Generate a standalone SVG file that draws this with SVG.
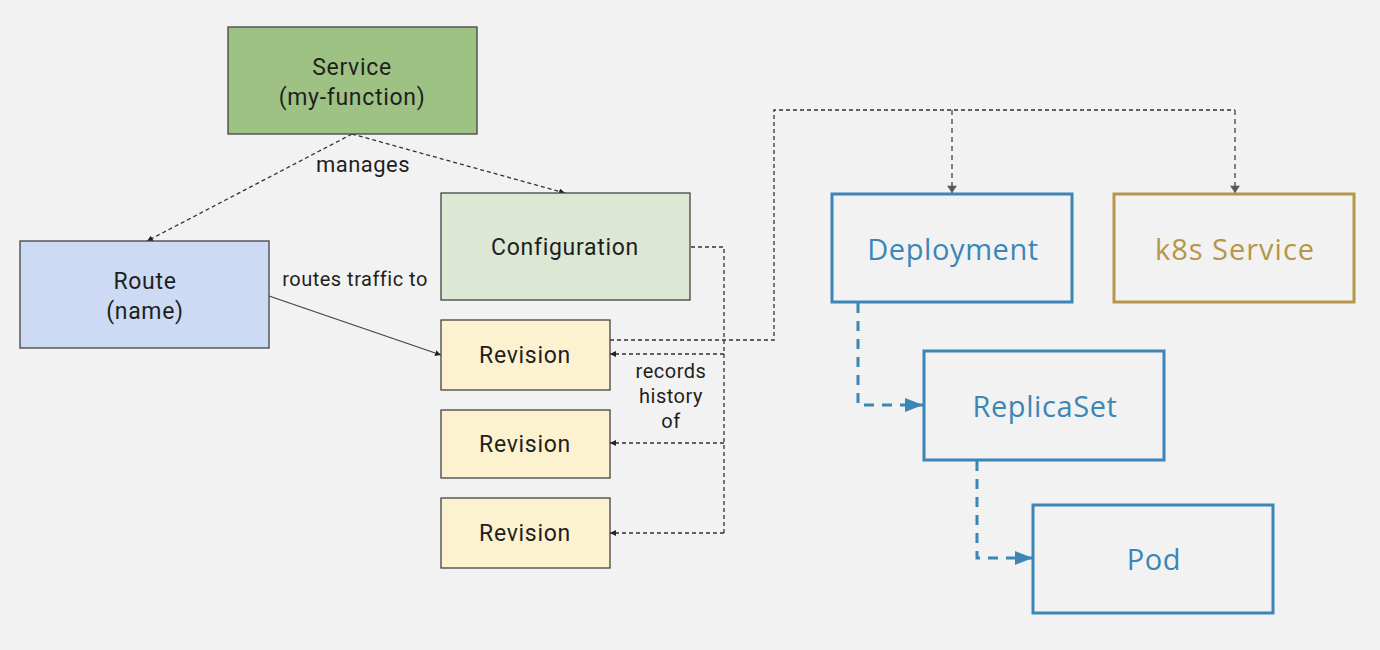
<svg xmlns="http://www.w3.org/2000/svg" width="1380" height="650" viewBox="0 0 1380 650">
<defs>
<style>
.k{stroke:#434343;stroke-width:1.3}
.t{font-family:Roboto,"Liberation Sans",sans-serif;font-size:23px;letter-spacing:0.7px;fill:#1f1f1f;text-anchor:middle;dominant-baseline:central}
.s{font-family:Roboto,"Liberation Sans",sans-serif;font-size:20px;letter-spacing:0.5px;fill:#1f1f1f;text-anchor:middle;dominant-baseline:central}
.b{font-family:"Open Sans","Noto Sans",sans-serif;font-size:29px;letter-spacing:0.6px;text-anchor:middle;dominant-baseline:central;font-weight:400}
.bl{fill:none;stroke:#3b86b7;stroke-width:3}
.gd{fill:none;stroke:#b5964b;stroke-width:3}
.d{fill:none;stroke:#333;stroke-width:1.3;stroke-dasharray:4,3}
.g{fill:none;stroke:#595959;stroke-width:1.5;stroke-dasharray:5,4}
.bd{fill:none;stroke:#3b86b7;stroke-width:3;stroke-dasharray:10,8}
</style>
<marker id="ak" viewBox="0 0 10 10" refX="10" refY="5" markerWidth="6" markerHeight="6" markerUnits="userSpaceOnUse" orient="auto"><path d="M0,0L10,5L0,10z" fill="#222"/></marker>
<marker id="ag" viewBox="0 0 10 14" refX="10" refY="7" markerWidth="14" markerHeight="10" markerUnits="userSpaceOnUse" orient="auto"><path d="M0,0L10,7L0,14z" fill="#595959"/></marker>
<marker id="ab" viewBox="0 0 18 14" refX="18" refY="7" markerWidth="18" markerHeight="14" markerUnits="userSpaceOnUse" orient="auto"><path d="M0,0L18,7L0,14z" fill="#3b86b7"/></marker>
</defs>
<rect width="1380" height="650" fill="#f2f2f2"/>
<g id="connectors">
<path class="d" d="M352,134L147,241" marker-end="url(#ak)"/>
<path class="d" d="M352,134L565,193" marker-end="url(#ak)"/>
<path class="k" fill="none" d="M269,296L441,355" marker-end="url(#ak)"/>
<path class="d" d="M691,247H724V533"/>
<path class="d" d="M724,354H610" marker-end="url(#ak)"/>
<path class="d" d="M724,443H610" marker-end="url(#ak)"/>
<path class="d" d="M724,533H610" marker-end="url(#ak)"/>
<path class="d" d="M610,340H774V110H1235"/>
<path class="g" d="M952,110V193" marker-end="url(#ag)"/>
<path class="g" d="M1235,110V193" marker-end="url(#ag)"/>
<path class="bd" d="M858,303V405H923" marker-end="url(#ab)"/>
<path class="bd" d="M977,461V558H1033" marker-end="url(#ab)"/>
<text class="s" x="363" y="164" style="font-size:22px">manages</text>
<text class="s" x="355" y="279">routes traffic to</text>
<text class="s" x="671" y="371">records</text>
<text class="s" x="671" y="396">history</text>
<text class="s" x="671" y="421">of</text>
</g>
<g id="service"><rect class="k" x="228" y="27" width="249" height="107" fill="#9dc284"/><text class="t" x="352" y="67">Service</text><text class="t" x="352" y="97">(my-function)</text></g>
<g id="route"><rect class="k" x="20" y="241" width="249" height="107" fill="#cddaf4"/><text class="t" x="145" y="281">Route</text><text class="t" x="145" y="311">(name)</text></g>
<g id="configuration"><rect class="k" x="441" y="193" width="249" height="107" fill="#dde8d4"/><text class="t" x="565" y="247">Configuration</text></g>
<g id="revision1"><rect class="k" x="441" y="320" width="169" height="70" fill="#fdf2cf"/><text class="t" x="525" y="355">Revision</text></g>
<g id="revision2"><rect class="k" x="441" y="410" width="169" height="68" fill="#fdf2cf"/><text class="t" x="525" y="444">Revision</text></g>
<g id="revision3"><rect class="k" x="441" y="498" width="169" height="70" fill="#fdf2cf"/><text class="t" x="525" y="533">Revision</text></g>
<g id="deployment"><rect class="bl" x="832" y="194" width="240" height="108"/><text class="b" x="953" y="248" fill="#3b86b7">Deployment</text></g>
<g id="k8s-service"><rect class="gd" x="1114" y="194" width="240" height="108"/><text class="b" x="1235" y="248" fill="#b5964b" style="letter-spacing:1px">k8s Service</text></g>
<g id="replicaset"><rect class="bl" x="924" y="351" width="240" height="109"/><text class="b" x="1045" y="405" fill="#3b86b7">ReplicaSet</text></g>
<g id="pod"><rect class="bl" x="1033" y="505" width="240" height="108"/><text class="b" x="1154" y="558" fill="#3b86b7">Pod</text></g>
</svg>
